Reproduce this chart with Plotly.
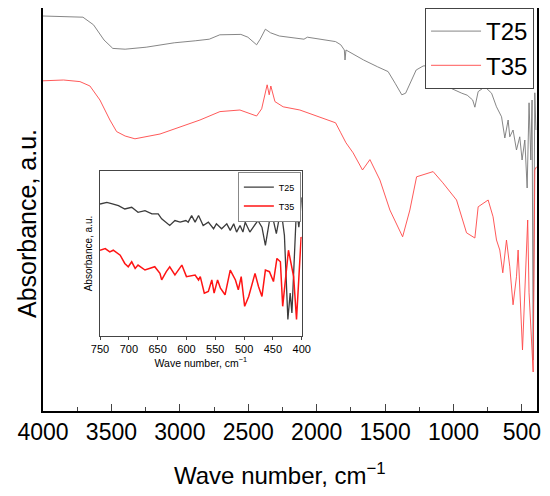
import plotly.graph_objects as go

# main spectra (absorbance in arbitrary units)
t25_wn = [4000, 3850, 3708, 3631, 3554, 3490, 3400, 3246, 3041, 2888, 2785, 2708, 2554, 2503,
          2439, 2413, 2375, 2337, 2273, 2093, 2068, 1862, 1824, 1798, 1793, 1786, 1657, 1555,
          1478, 1427, 1378, 1350, 1273, 1222, 1132, 1068, 1017, 940, 900, 860, 844, 820, 771,
          722, 686, 649, 625, 601, 589, 565, 540, 516, 499, 479, 462, 448, 435, 426, 418, 406, 398]
t25_abs = [0.980, 0.979, 0.977, 0.958, 0.920, 0.899, 0.897, 0.902, 0.913, 0.918, 0.922, 0.933, 0.934, 0.927,
           0.908, 0.922, 0.947, 0.938, 0.930, 0.922, 0.927, 0.916, 0.908, 0.895, 0.870, 0.895, 0.870, 0.853,
           0.841, 0.812, 0.783, 0.787, 0.845, 0.855, 0.858, 0.828, 0.799, 0.787, 0.782, 0.770, 0.752, 0.791, 0.803,
           0.787, 0.753, 0.728, 0.675, 0.720, 0.678, 0.695, 0.645, 0.678, 0.620, 0.670, 0.550, 0.763, 0.620, 0.770, 0.120, 0.788, 0.695]

t35_wn = [4000, 3850, 3730, 3657, 3584, 3511, 3462, 3400, 3328, 3145, 2853, 2707, 2561, 2439,
          2402, 2362, 2347, 2335, 2305, 2245, 2123, 1862, 1824, 1786, 1734, 1665, 1611, 1538,
          1465, 1372, 1319, 1270, 1149, 1078, 978, 905, 844, 820, 747, 711, 686, 662, 640, 613,
          589, 565, 540, 528, 496, 480, 458, 448, 418, 406, 394]
t35_abs = [0.818, 0.820, 0.816, 0.805, 0.770, 0.720, 0.691, 0.680, 0.673, 0.685, 0.720, 0.741, 0.745, 0.730,
           0.748, 0.808, 0.783, 0.805, 0.766, 0.753, 0.745, 0.713, 0.688, 0.663, 0.638, 0.595, 0.621, 0.570,
           0.495, 0.428, 0.495, 0.578, 0.591, 0.563, 0.520, 0.438, 0.425, 0.503, 0.520, 0.478, 0.420, 0.395, 0.338, 0.420,
           0.353, 0.258, 0.328, 0.395, 0.145, 0.303, 0.470, 0.288, 0.090, 0.595, 0.603]

# inset, 750-400 cm-1
ins25_wn = [750, 738, 727, 718, 707, 695, 684, 672, 660, 649, 643, 629, 620, 611, 601, 597, 591, 585,
            579, 571, 562, 553, 548, 539, 530, 524, 518, 513, 507, 502, 498, 490, 484, 476, 469, 463,
            453, 444, 436, 430, 424, 420, 417, 409, 405, 400]
ins25_abs = [0.80, 0.81, 0.80, 0.79, 0.77, 0.78, 0.75, 0.76, 0.74, 0.74, 0.71, 0.67, 0.70, 0.69, 0.70, 0.69,
             0.73, 0.69, 0.73, 0.67, 0.69, 0.65, 0.68, 0.65, 0.68, 0.64, 0.68, 0.63, 0.67, 0.63, 0.69, 0.63,
             0.66, 0.70, 0.66, 0.55, 0.76, 0.62, 0.77, 0.61, 0.10, 0.26, 0.14, 0.78, 0.66, 0.84]
ins35_wn = [750, 741, 733, 727, 715, 707, 701, 695, 689, 684, 672, 663, 655, 646, 643, 635, 629, 620,
            608, 600, 585, 579, 576, 569, 562, 556, 552, 546, 541, 533, 524, 515, 510, 505, 499, 492,
            485, 481, 475, 469, 463, 456, 449, 443, 437, 433, 423, 414, 409, 401, 400]
ins35_abs = [0.52, 0.53, 0.51, 0.52, 0.49, 0.44, 0.42, 0.45, 0.41, 0.43, 0.40, 0.41, 0.42, 0.38, 0.34, 0.39,
             0.42, 0.37, 0.43, 0.36, 0.37, 0.34, 0.36, 0.26, 0.27, 0.34, 0.26, 0.34, 0.29, 0.25, 0.40, 0.34,
             0.28, 0.36, 0.18, 0.24, 0.32, 0.38, 0.30, 0.24, 0.40, 0.39, 0.33, 0.47, 0.45, 0.18, 0.52, 0.36,
             0.10, 0.60, 0.59]

x_ticks = [4000, 3500, 3000, 2500, 2000, 1500, 1000, 500]
inset_ticks = [750, 700, 650, 600, 550, 500, 450, 400]

font = "Liberation Sans, Arial, sans-serif"
x_title = 'Wave number, cm<sup>\u22121</sup>'
y_title = 'Absorbance, a.u.'

fig = go.Figure()
fig.add_trace(go.Scatter(x=t25_wn, y=t25_abs, mode='lines', name='T25',
                         line=dict(color='rgb(120,120,120)', width=0.9)))
fig.add_trace(go.Scatter(x=t35_wn, y=t35_abs, mode='lines', name='T35',
                         line=dict(color='rgb(255,70,70)', width=0.9)))
fig.add_trace(go.Scatter(x=ins25_wn, y=ins25_abs, mode='lines', name='T25', xaxis='x2', yaxis='y2',
                         legend='legend2', line=dict(color='rgb(60,60,60)', width=1.3)))
fig.add_trace(go.Scatter(x=ins35_wn, y=ins35_abs, mode='lines', name='T35', xaxis='x2', yaxis='y2',
                         legend='legend2', line=dict(color='rgb(255,20,20)', width=1.5)))

# the page body adds 8px on the left and top, so the figure is 8px smaller
fig.update_layout(
    width=542, height=488,
    margin=dict(l=35, r=13, t=0, b=85),
    plot_bgcolor='white', paper_bgcolor='white',
    font=dict(family=font, color='black'),
    showlegend=True,
    xaxis=dict(range=[4000, 390], tickvals=x_ticks, ticks='inside', ticklen=7, tickwidth=1.2,
               minor=dict(ticks='inside', dtick=250, ticklen=4, tickwidth=1),
               showline=True, linecolor='black', linewidth=1.5, mirror=True, showgrid=False,
               zeroline=False, tickfont=dict(size=23), automargin=False),
    yaxis=dict(range=[-0.0075, 1.0], showticklabels=False, ticks='', showline=True, linecolor='black',
               linewidth=1.5, mirror=True, showgrid=False, zeroline=False, automargin=False),
    xaxis2=dict(domain=[0.1154, 0.5237], anchor='y2', range=[750, 400], tickvals=inset_ticks,
                ticks='outside', ticklen=3, tickcolor='#444', showline=True, linecolor='#444',
                linewidth=1, mirror=True, showgrid=False, zeroline=False, tickfont=dict(size=11),
                automargin=False,
                title=dict(text=x_title, font=dict(size=10.5), standoff=4)),
    yaxis2=dict(domain=[0.186, 0.5955], anchor='x2', range=[0, 1], showticklabels=False, ticks='',
                showline=True, linecolor='#444', linewidth=1, mirror=True, showgrid=False,
                zeroline=False, automargin=False,
                title=dict(text=y_title, font=dict(size=10), standoff=4)),
    legend=dict(x=0.994, y=1.0, xanchor='right', yanchor='top', bgcolor='white',
                bordercolor='#444', borderwidth=1, font=dict(size=24), tracegroupgap=0,
                itemwidth=50),
    legend2=dict(x=0.522, y=0.594, xanchor='right', yanchor='top', bgcolor='white',
                 bordercolor='#888', borderwidth=1, font=dict(size=9), tracegroupgap=0,
                 itemwidth=30),
    annotations=[
        dict(text=x_title, xref='paper', yref='paper', x=0.48, y=-0.156, xanchor='center',
             yanchor='middle', showarrow=False, font=dict(size=24)),
        dict(text=y_title, xref='paper', yref='paper', x=-0.0324, y=0.4665, xanchor='center',
             yanchor='middle', textangle=-90, showarrow=False, font=dict(size=25)),
    ],
)

fig.write_html("out.html")
